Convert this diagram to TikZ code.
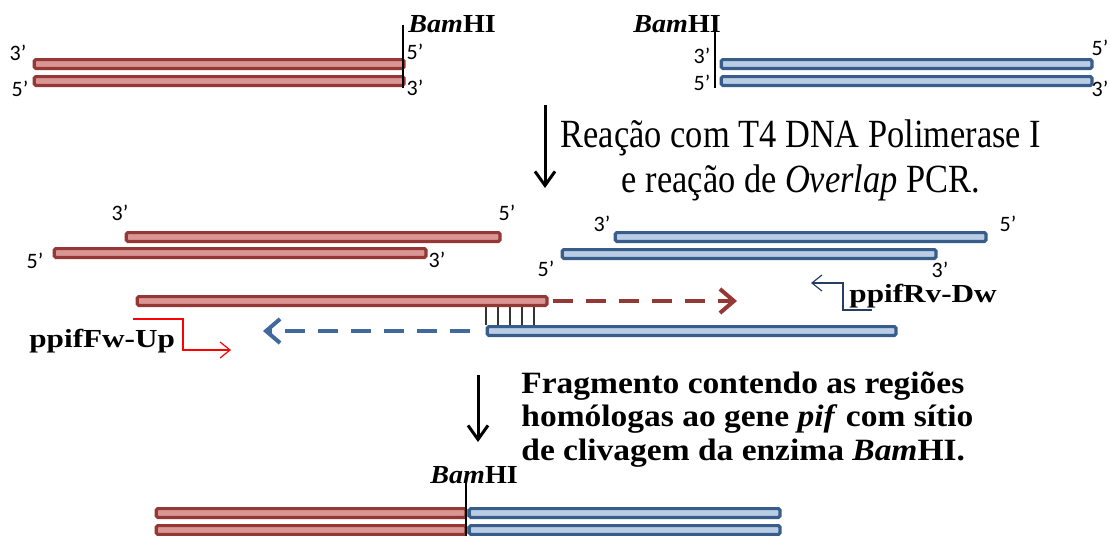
\documentclass[tikz,border=0pt]{standalone}
\usepackage{fontspec}
\setmainfont{Liberation Serif}
\newfontfamily\endfont{Carlito}
\newfontfamily\condfont[FakeStretch=0.86]{Liberation Serif}
\newfontfamily\widefont[FakeStretch=1.08]{Liberation Serif}
\newfontfamily\primerfont[FakeStretch=1.2]{Liberation Serif}
\usetikzlibrary{arrows.meta}
\definecolor{redline}{HTML}{953735}
\definecolor{redfill}{HTML}{D99694}
\definecolor{blueline}{HTML}{385D8A}
\definecolor{bluefill}{HTML}{B9CDE5}
\definecolor{bluedashed}{HTML}{41699E}
\definecolor{rvline}{HTML}{243F60}

\begin{document}
\begin{tikzpicture}[
  x=0.5pt, y=-0.5pt,
  strand/.style={rectangle, draw, line width=1.6pt, rounded corners=0.8pt, minimum height=4.4pt, inner sep=0pt, anchor=west},
  redstrand/.style={strand, draw=redline, fill=redfill},
  bluestrand/.style={strand, draw=blueline, fill=bluefill},
  endlabel/.style={inner sep=0pt, font=\endfont\fontsize{11}{12}\selectfont},
  enzyme/.style={inner sep=0pt, anchor=base west, font=\widefont\fontsize{13}{15}\selectfont\bfseries},
  primer/.style={inner sep=0pt, anchor=base west, font=\primerfont\fontsize{13}{15}\selectfont\bfseries},
  cut/.style={line width=1.3pt},
  rung/.style={line width=0.6pt, black!80},
  steparrow/.style={line width=1.5pt, -{Straight Barb[length=7pt,width=10pt]}},
  reddash/.style={redline, line width=2pt, dash pattern=on 10pt off 6.5pt, -{Straight Barb[length=7pt,width=12pt]}},
  bluedash/.style={bluedashed, line width=2pt, dash pattern=on 10pt off 6.5pt, -{Straight Barb[length=7pt,width=12pt]}},
  fwprimer/.style={red, line width=0.6pt, -{Straight Barb[length=5pt,width=8pt]}},
  rvprimer/.style={rvline, line width=0.6pt, -{Straight Barb[length=5pt,width=8pt]}}
]
\useasboundingbox (0,0) rectangle (1110,536);

\node[redstrand, minimum width=184.9pt] (upA) at (32.6,64) {};
\node[redstrand, minimum width=184.9pt] (upB) at (32.6,81) {};
\node[bluestrand, minimum width=185.4pt] (dwA) at (719.6,64) {};
\node[bluestrand, minimum width=185.4pt] (dwB) at (719.6,81) {};
\draw[cut] (403,25) -- (403,88);
\draw[cut] (715,24) -- (715,88);
\node[enzyme] (bamUp) at (408,32) {\textit{Bam}HI};
\node[enzyme] (bamDw) at (633,32) {\textit{Bam}HI};
\node[endlabel] at (18,53) {3’};
\node[endlabel] at (20,89) {5’};
\node[endlabel] at (415,52) {5’};
\node[endlabel] at (415,88) {3’};
\node[endlabel] at (702,56) {3’};
\node[endlabel] at (702,83) {5’};
\node[endlabel] at (1100,48) {5’};
\node[endlabel] at (1100,89) {3’};

\coordinate (stepA) at (545,105);
\coordinate (stepB) at (545,188);
\draw[steparrow] (stepA) -- (stepB);
\node[inner sep=0pt, align=center, font=\condfont\fontsize{20}{22.5}\selectfont] (stepone) at (801,160) {Reação com T4 DNA Polimerase I\\e reação de \textit{Overlap} PCR.};

\node[redstrand, minimum width=186.9pt] (upC) at (124.6,237) {};
\node[redstrand, minimum width=185.9pt] (upD) at (52.6,253) {};
\node[bluestrand, minimum width=185.4pt] (dwC) at (613.6,237) {};
\node[bluestrand, minimum width=186.9pt] (dwD) at (560.6,254) {};
\node[endlabel] at (120,213) {3’};
\node[endlabel] at (507,213) {5’};
\node[endlabel] at (35,261) {5’};
\node[endlabel] at (437,260) {3’};
\node[endlabel] at (602,224) {3’};
\node[endlabel] at (1008,224) {5’};
\node[endlabel] at (546,269) {5’};
\node[endlabel] at (940,270) {3’};

\node[redstrand, minimum width=204.9pt] (upE) at (135.6,301) {};
\node[bluestrand, minimum width=204.4pt] (dwE) at (485.6,331) {};
\foreach \x in {486,498,510,522,534}
  \draw[rung] (\x,307) -- (\x,325);
\coordinate (redtip) at (737,301);
\coordinate (bluetip) at (263,331);
\draw[reddash] ([xshift=2pt]upE.east) -- (redtip);
\draw[bluedash] ([xshift=-8pt]dwE.west) -- (bluetip);

\coordinate (fwA) at (133,319);
\coordinate (fwB) at (231,350);
\draw[fwprimer] (fwA) -- ++(50,0) |- (fwB);
\node[primer] (fwlabel) at (29,347) {ppifFw-Up};
\coordinate (rvA) at (872,310);
\coordinate (rvB) at (811,283);
\draw[rvprimer] (rvA) -- ++(-29,0) |- (rvB);
\node[primer] (rvlabel) at (849,302) {ppifRv-Dw};

\coordinate (stepC) at (478,375);
\coordinate (stepD) at (478,442);
\draw[steparrow] (stepC) -- (stepD);
\node[inner sep=0pt, align=left, anchor=north west, font=\widefont\fontsize{15.5}{16.8}\selectfont\bfseries] (steptwo) at (521,371) {Fragmento contendo as regiões\\homólogas ao gene \textit{pif} com sítio\\de clivagem da enzima \textit{Bam}HI.};

\node[redstrand, minimum width=154.9pt] (fragA) at (154.6,513) {};
\node[bluestrand, minimum width=155.4pt] (fragB) at (467.6,513) {};
\node[redstrand, minimum width=154.9pt] (fragC) at (154.6,530) {};
\node[bluestrand, minimum width=155.4pt] (fragD) at (467.6,530) {};
\draw[cut] (466,478) -- (466,540);
\node[enzyme] (bamFrag) at (430,483) {\textit{Bam}HI};
\end{tikzpicture}
\end{document}
